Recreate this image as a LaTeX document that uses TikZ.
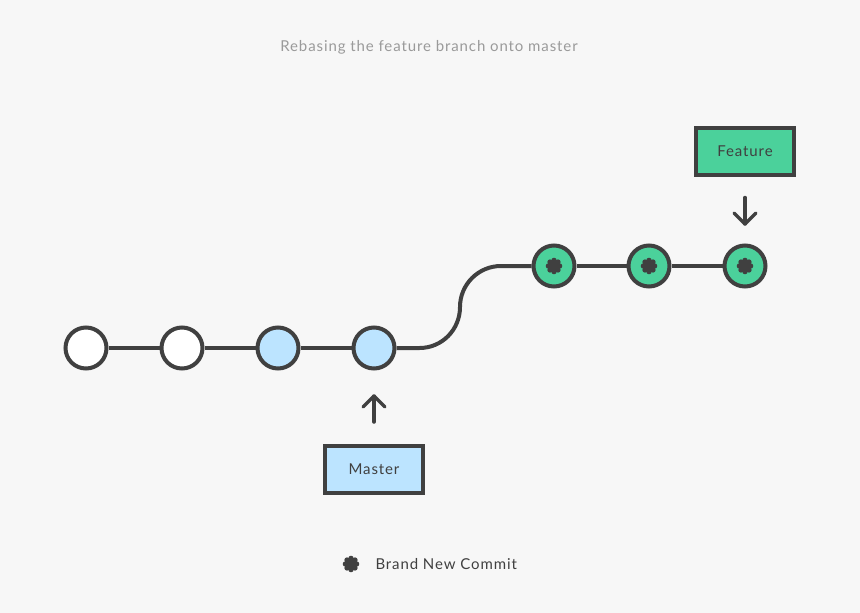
\documentclass[tikz,border=0pt]{standalone}
\usepackage{fontspec}
\setmainfont{Lato}[LetterSpace=6]
\usetikzlibrary{calc}
\definecolor{bg}{HTML}{F7F7F7}
\definecolor{ink}{HTML}{404040}
\definecolor{blu}{HTML}{BCE4FF}
\definecolor{grn}{HTML}{4BD19B}
\definecolor{gry}{HTML}{9A9A9A}
\begin{document}
\begin{tikzpicture}[x=1pt,y=-1pt,
  commit/.style={circle,draw=ink,line width=4pt,minimum size=41pt,inner sep=0pt},
  oldc/.style={commit,fill=white},
  basec/.style={commit,fill=blu},
  newc/.style={commit,fill=grn},
  txt/.style={font=\fontsize{15}{17}\selectfont},
  label/.style={draw=ink,line width=4pt,minimum width=98pt,minimum height=47pt,inner sep=0pt,txt,text=ink},
  link/.style={draw=ink,line width=4pt},
  pointer/.style={draw=ink,line width=3.5pt,line cap=round,line join=round},
  star/.pic={\fill[ink] (0,0) circle (5pt);
    \foreach \a in {0,45,...,315} \fill[ink] (\a:5.6pt) circle (2.7pt);}
]
\fill[bg] (0,0) rectangle (860,613);
\useasboundingbox (0,0) rectangle (860,613);

\node[text=gry,txt] (title) at (429,47.5) {Rebasing the feature branch onto master};

\node[oldc] (c1) at (86,348) {};
\node[oldc] (c2) at (182,348) {};
\node[basec] (c3) at (278,348) {};
\node[basec] (c4) at (374,348) {};
\node[newc] (n1) at (554,266) {};
\node[newc] (n2) at (649,266) {};
\node[newc] (n3) at (745,266) {};
\foreach \n in {n1,n2,n3} \pic at (\n) {star};

\draw[link] (c1) -- (c2);
\draw[link] (c2) -- (c3);
\draw[link] (c3) -- (c4);
\draw[link] (c4.east) -- ++(23,0) .. controls +(22.6,0) and (460,329.6) .. (460,307)
   .. controls (460,284.4) and (478.4,266) .. (501,266) -- (n1.west);
\draw[link] (n1) -- (n2);
\draw[link] (n2) -- (n3);

\node[label,fill=blu] (master) at (374,469.5) {Master};
\node[label,fill=grn] (feature) at (745,151) {Feature};

\coordinate (mt) at (374,396);
\coordinate (ft) at (745,224);
\draw[pointer] (master.north) ++(0,-22) -- (mt);
\draw[pointer] ($(mt)+(-11,11)$) -- (mt) -- ($(mt)+(11,11)$);
\draw[pointer] (feature.south) ++(0,21) -- (ft);
\draw[pointer] ($(ft)+(-11,-11)$) -- (ft) -- ($(ft)+(11,-11)$);

\pic at (351,564) {star};
\node[anchor=west,text=ink,txt] (legend) at (372,564) {Brand New Commit};
\end{tikzpicture}
\end{document}
